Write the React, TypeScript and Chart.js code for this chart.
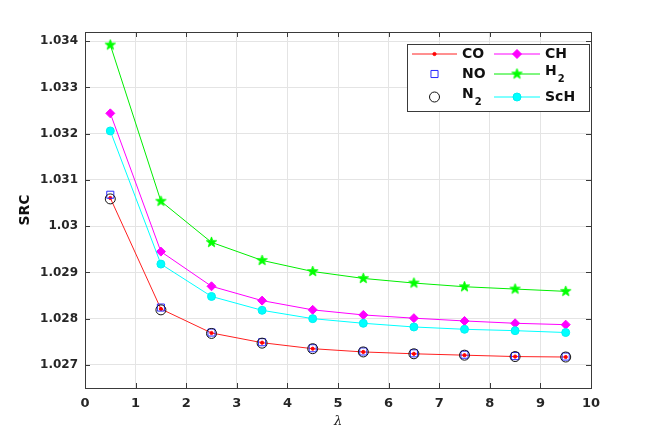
import { useEffect, useRef } from 'react';
import { Chart, registerables, Plugin } from 'chart.js';
import { drawPoint } from 'chart.js/helpers';

Chart.register(...registerables);

const lambda = [0.5, 1.5, 2.5, 3.5, 4.5, 5.5, 6.5, 7.5, 8.5, 9.5];
const coSRC = [1.03061, 1.02821, 1.02769, 1.02748, 1.02735, 1.02728, 1.02724, 1.02721, 1.02718, 1.02717];
const noSRC = [1.03068, 1.02824, 1.0277, 1.02749, 1.02736, 1.02729, 1.02725, 1.02722, 1.02719, 1.02718];
const n2SRC = [1.03059, 1.02819, 1.02768, 1.02747, 1.02735, 1.02728, 1.02724, 1.02721, 1.02718, 1.02717];
const chSRC = [1.03244, 1.02945, 1.0287, 1.02839, 1.02819, 1.02808, 1.02801, 1.02795, 1.0279, 1.02787];
const h2SRC = [1.03392, 1.03054, 1.02965, 1.02926, 1.02902, 1.02887, 1.02877, 1.02869, 1.02864, 1.02859];
const schSRC = [1.03206, 1.02918, 1.02848, 1.02818, 1.028, 1.0279, 1.02782, 1.02777, 1.02774, 1.0277];

const xTicks = [0, 1, 2, 3, 4, 5, 6, 7, 8, 9, 10];
const yTicks = [1.027, 1.028, 1.029, 1.03, 1.031, 1.032, 1.033, 1.034];

// legend entries: [name, subscript]
const legendNames: [string, string][] = [
  ['CO', ''],
  ['NO', ''],
  ['N', '2'],
  ['CH', ''],
  ['H', '2'],
  ['ScH', ''],
];

const AXIS = '#3a3a3a';
const FONT = '"DejaVu Sans", sans-serif';

function makePentagram(color: string, r: number): HTMLCanvasElement {
  const c = document.createElement('canvas');
  const s = Math.ceil(r * 2 + 2);
  c.width = s;
  c.height = s;
  const g = c.getContext('2d')!;
  g.beginPath();
  for (let i = 0; i < 10; i++) {
    const rad = i % 2 === 0 ? r : r * 0.42;
    const a = -Math.PI / 2 + (i * Math.PI) / 5;
    const px = s / 2 + rad * Math.cos(a);
    const py = s / 2 + rad * Math.sin(a);
    if (i === 0) g.moveTo(px, py);
    else g.lineTo(px, py);
  }
  g.closePath();
  g.fillStyle = color;
  g.fill();
  g.strokeStyle = color;
  g.lineWidth = 0.8;
  g.stroke();
  return c;
}

const frame: Plugin = {
  id: 'frame',
  afterDraw(chart) {
    const { ctx, chartArea: a } = chart;
    const x = chart.scales.x;
    const y = chart.scales.y;
    ctx.save();
    ctx.strokeStyle = AXIS;
    ctx.lineWidth = 1;
    ctx.strokeRect(a.left + 0.5, a.top + 0.5, a.right - a.left, a.bottom - a.top);
    ctx.beginPath();
    const tl = 5;
    xTicks.forEach((v) => {
      const px = Math.round(x.getPixelForValue(v)) + 0.5;
      ctx.moveTo(px, a.bottom);
      ctx.lineTo(px, a.bottom - tl);
      ctx.moveTo(px, a.top);
      ctx.lineTo(px, a.top + tl);
    });
    yTicks.forEach((v) => {
      const py = Math.round(y.getPixelForValue(v)) + 0.5;
      ctx.moveTo(a.left, py);
      ctx.lineTo(a.left + tl, py);
      ctx.moveTo(a.right, py);
      ctx.lineTo(a.right - tl, py);
    });
    ctx.stroke();

    // legend box
    const bx = 407, by = 44, bw = 182, bh = 67;
    ctx.fillStyle = '#ffffff';
    ctx.fillRect(bx, by, bw, bh);
    ctx.strokeStyle = AXIS;
    ctx.strokeRect(bx + 0.5, by + 0.5, bw, bh);
    const rows = [54, 74, 97];
    const cols = [
      { x1: 412, x2: 457, tx: 462 },
      { x1: 494, x2: 540, tx: 545 },
    ];
    chart.data.datasets.forEach((ds: any, i) => {
      const col = cols[Math.floor(i / 3)];
      const ry = rows[i % 3];
      const mx = (col.x1 + col.x2) / 2;
      if (ds.showLine !== false) {
        ctx.beginPath();
        ctx.strokeStyle = ds.borderColor;
        ctx.lineWidth = ds.borderWidth;
        ctx.moveTo(col.x1, ry);
        ctx.lineTo(col.x2, ry);
        ctx.stroke();
      }
      ctx.fillStyle = ds.pointBackgroundColor;
      ctx.strokeStyle = ds.pointBorderColor;
      ctx.lineWidth = ds.pointBorderWidth;
      drawPoint(ctx, { pointStyle: ds.pointStyle, radius: ds.pointRadius, rotation: 0, borderWidth: ds.pointBorderWidth }, mx, ry);
      const [name, sub] = legendNames[i];
      ctx.fillStyle = '#111111';
      ctx.font = `bold 14px ${FONT}`;
      ctx.textBaseline = 'middle';
      ctx.textAlign = 'left';
      const ty = sub ? ry - 3 : ry;
      ctx.fillText(name, col.tx, ty);
      if (sub) {
        const w = ctx.measureText(name).width;
        ctx.font = `bold 10px ${FONT}`;
        ctx.fillText(sub, col.tx + w + 1, ty + 8);
      }
    });
    ctx.restore();
  },
};

export default function App() {
  const canvasRef = useRef<HTMLCanvasElement>(null);
  const chartRef = useRef<Chart | null>(null);

  useEffect(() => {
    document.body.style.margin = '0';
    if (!canvasRef.current) return;
    if (chartRef.current) chartRef.current.destroy();

    const star = makePentagram('#00ff00', 5.5);
    const pts = (vals: number[]) => lambda.map((x, i) => ({ x, y: vals[i] }));

    chartRef.current = new Chart(canvasRef.current, {
      type: 'line',
      data: {
        datasets: [
          {
            label: 'CO',
            data: pts(coSRC),
            borderColor: '#ff2020',
            borderWidth: 1,
            pointStyle: 'circle',
            pointRadius: 1.6,
            pointBackgroundColor: '#ff0000',
            pointBorderColor: '#ff0000',
            pointBorderWidth: 1,
            order: 3,
          },
          {
            label: 'NO',
            data: pts(noSRC),
            showLine: false,
            borderColor: '#0000ff',
            borderWidth: 1,
            pointStyle: 'rect',
            pointRadius: 5,
            pointBackgroundColor: 'rgba(0,0,0,0)',
            pointBorderColor: '#2a2aff',
            pointBorderWidth: 1,
            order: 2,
          },
          {
            label: 'N2',
            data: pts(n2SRC),
            showLine: false,
            borderColor: '#000000',
            borderWidth: 1,
            pointStyle: 'circle',
            pointRadius: 5,
            pointBackgroundColor: 'rgba(0,0,0,0)',
            pointBorderColor: '#111111',
            pointBorderWidth: 1,
            order: 1,
          },
          {
            label: 'CH',
            data: pts(chSRC),
            borderColor: '#ff00ff',
            borderWidth: 1,
            pointStyle: 'rectRot',
            pointRadius: 4.5,
            pointBackgroundColor: '#ff00ff',
            pointBorderColor: '#ff00ff',
            pointBorderWidth: 1,
            order: 5,
          },
          {
            label: 'H2',
            data: pts(h2SRC),
            borderColor: '#00ee00',
            borderWidth: 1,
            pointStyle: star,
            pointRadius: 5.5,
            pointBackgroundColor: '#00ff00',
            pointBorderColor: '#00ff00',
            pointBorderWidth: 1,
            order: 6,
          },
          {
            label: 'ScH',
            data: pts(schSRC),
            borderColor: '#00ffff',
            borderWidth: 1,
            pointStyle: 'circle',
            pointRadius: 4,
            pointBackgroundColor: '#00ffff',
            pointBorderColor: '#00f0f0',
            pointBorderWidth: 1,
            order: 4,
          },
        ],
      },
      options: {
        animation: false,
        responsive: true,
        maintainAspectRatio: false,
        layout: { padding: { left: 0, top: 32, right: 63, bottom: 0 } },
        plugins: {
          legend: { display: false },
          tooltip: { enabled: false },
        },
        elements: { line: { tension: 0 } },
        scales: {
          x: {
            type: 'linear',
            min: 0,
            max: 10,
            afterFit: (s) => {
              s.height = 48;
            },
            afterBuildTicks: (s) => {
              s.ticks = xTicks.map((value) => ({ value }));
            },
            grid: { color: '#e4e4e4', drawTicks: false },
            border: { display: false },
            ticks: {
              padding: 8,
              color: '#262626',
              font: { family: FONT, size: 13, weight: 'bold' },
              callback: (v) => String(v),
            },
            title: {
              display: true,
              text: 'λ',
              color: '#262626',
              padding: { top: 0, bottom: 7 },
              font: { family: '"DejaVu Serif", serif', size: 13, style: 'italic' },
            },
          },
          y: {
            type: 'linear',
            min: 1.0265,
            max: 1.0342,
            afterFit: (s) => {
              s.width = 85;
            },
            afterBuildTicks: (s) => {
              s.ticks = yTicks.map((value) => ({ value }));
            },
            grid: { color: '#e4e4e4', drawTicks: false },
            border: { display: false },
            ticks: {
              padding: 7,
              color: '#262626',
              font: { family: FONT, size: 12, weight: 'bold' },
              callback: (v) => String(Number(Number(v).toFixed(3))),
            },
            title: {
              display: true,
              text: 'SRC',
              color: '#111111',
              padding: { top: 17, bottom: 0 },
              font: { family: FONT, size: 14, weight: 'bold' },
            },
          },
        },
      },
      plugins: [frame],
    });

    return () => {
      if (chartRef.current) {
        chartRef.current.destroy();
        chartRef.current = null;
      }
    };
  }, []);

  return (
    <div style={{ width: 654, height: 436, position: 'relative' }}>
      <canvas ref={canvasRef}></canvas>
    </div>
  );
}
